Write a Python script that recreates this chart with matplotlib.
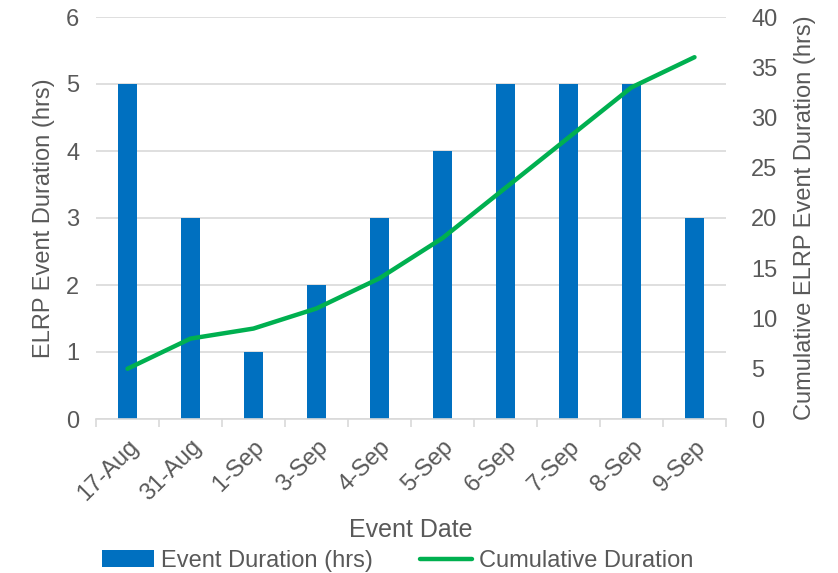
import matplotlib
matplotlib.use("Agg")
import matplotlib.pyplot as plt
import numpy as np

dates = ["17-Aug", "31-Aug", "1-Sep", "3-Sep", "4-Sep", "5-Sep", "6-Sep", "7-Sep", "8-Sep", "9-Sep"]
duration = [5, 3, 1, 2, 3, 4, 5, 5, 5, 3]
cumulative = [5, 8, 9, 11, 14, 18, 23, 28, 33, 36]

plt.rcParams["font.family"] = ["Liberation Sans", "DejaVu Sans"]
text_color = "#595959"
grid_color = "#d9d9d9"
bar_color = "#0070C0"
line_color = "#00B050"
fs = 17

fig = plt.figure(figsize=(8.38, 5.73), dpi=100)
ax = fig.add_axes([96 / 838, 1 - 419 / 573, 630 / 838, 402 / 573])
ax2 = ax.twinx()

x = np.arange(len(dates))
bars = ax.bar(x, duration, width=0.31, color=bar_color, zorder=2, label="Event Duration (hrs)")
line, = ax2.plot(x, cumulative, color=line_color, lw=3.2, solid_capstyle="round",
                 solid_joinstyle="round", zorder=3, label="Cumulative Duration")

ax.set_xlim(-0.5, len(dates) - 0.5)
ax.set_ylim(0, 6)
ax.set_yticks(range(0, 7))
ax2.set_ylim(0, 40)
ax2.set_yticks(range(0, 41, 5))

ax.yaxis.grid(True, color=grid_color, lw=1.2, zorder=0)
ax.set_axisbelow(True)

for a in (ax, ax2):
    for s in ("top", "left", "right", "bottom"):
        a.spines[s].set_visible(False)
ax.tick_params(axis="y", length=0, labelsize=fs, colors=text_color, pad=12)
ax2.tick_params(axis="y", length=0, labelsize=fs, colors=text_color, pad=18)

ax.spines["bottom"].set_visible(True)
ax.spines["bottom"].set_color(grid_color)
ax.spines["bottom"].set_linewidth(1.2)

# boundary ticks between categories, labels at category centers
ax.set_xticks(np.arange(-0.5, len(dates), 1.0))
ax.set_xticklabels([])
ax.tick_params(axis="x", which="major", length=6, width=1.2, color=grid_color)
ax.set_xticks(x, minor=True)
ax.set_xticklabels(dates, minor=True, rotation=45, ha="right", rotation_mode="anchor")
ax.tick_params(axis="x", which="minor", length=0, labelsize=fs, labelcolor=text_color, pad=12)

ax.set_xlabel("Event Date", fontsize=18, color=text_color, labelpad=9)
ax.set_ylabel("ELRP Event Duration (hrs)", fontsize=fs, color=text_color, labelpad=8)
ax2.set_ylabel("Cumulative ELRP Event Duration (hrs)", fontsize=fs, color=text_color, labelpad=12)

leg = fig.legend([bars, line], ["Event Duration (hrs)", "Cumulative Duration"],
                 loc="lower center", bbox_to_anchor=(0.475, -0.035), ncol=2, frameon=False,
                 fontsize=17, handlelength=2.2, handletextpad=0.3, columnspacing=2.0)
for t in leg.get_texts():
    t.set_color(text_color)

fig.savefig("out.png", dpi=100)
